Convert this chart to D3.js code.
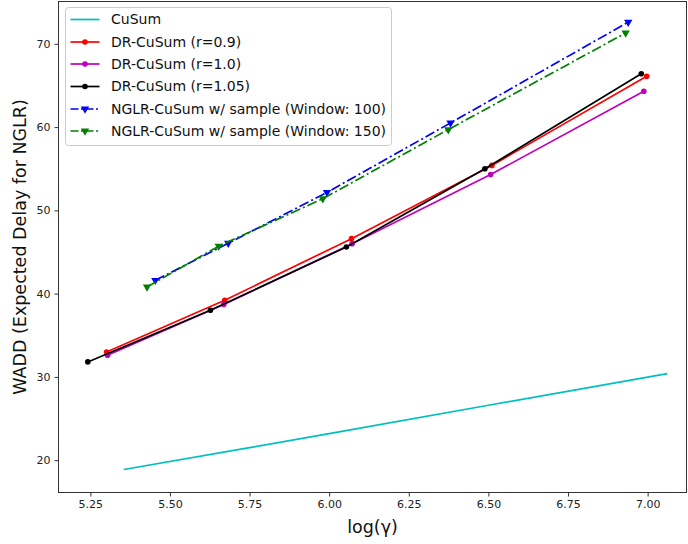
<!DOCTYPE html>
<html>
<head>
<meta charset="utf-8">
<script src="https://cdn.jsdelivr.net/npm/d3@7"></script>
<style>
  html, body { margin: 0; padding: 0; background: #fff; }
  svg { display: block; font-family: "DejaVu Sans", sans-serif; }
</style>
</head>
<body>
<svg id="chart" width="688" height="544"></svg>
<script>
// ---- data ----
const cusumX = [5.355, 5.75, 6.0, 6.5, 7.062];
const cusumY = [18.88, 21.5, 23.2, 26.6, 30.4];

const drX09 = [5.301, 5.672, 6.070, 6.511, 6.997];
const drY09 = [33.0, 39.2, 46.6, 55.4, 66.1];

const drX10 = [5.304, 5.669, 6.072, 6.507, 6.988];
const drY10 = [32.6, 38.7, 46.0, 54.3, 64.3];

const drX105 = [5.242, 5.627, 6.054, 6.489, 6.980];
const drY105 = [31.8, 38.0, 45.6, 55.0, 66.4];

const nglrX100 = [5.454, 5.683, 5.993, 6.381, 6.939];
const nglrY100 = [41.6, 46.05, 52.15, 60.5, 72.6];

const nglrX150 = [5.428, 5.653, 5.980, 6.374, 6.931];
const nglrY150 = [40.8, 45.7, 51.4, 59.7, 71.3];

const xTicks = [5.25, 5.50, 5.75, 6.00, 6.25, 6.50, 6.75, 7.00];
const yTicks = [20, 30, 40, 50, 60, 70];

const seriesNames = [
  "CuSum",
  "DR-CuSum (r=0.9)",
  "DR-CuSum (r=1.0)",
  "DR-CuSum (r=1.05)",
  "NGLR-CuSum w/ sample (Window: 100)",
  "NGLR-CuSum w/ sample (Window: 150)"
];

// ---- build series ----
const zip = (xs, ys) => xs.map((x, i) => ({x, y: ys[i]}));
const series = [
  {name: seriesNames[0], pts: zip(cusumX, cusumY), color: "#00bfbf", marker: null, dash: null},
  {name: seriesNames[1], pts: zip(drX09, drY09), color: "#ff0000", marker: "o", dash: null},
  {name: seriesNames[2], pts: zip(drX10, drY10), color: "#bf00bf", marker: "o", dash: null},
  {name: seriesNames[3], pts: zip(drX105, drY105), color: "#000000", marker: "o", dash: null},
  {name: seriesNames[4], pts: zip(nglrX100, nglrY100), color: "#0000ff", marker: "v", dash: "10,3,2,3"},
  {name: seriesNames[5], pts: zip(nglrX150, nglrY150), color: "#008000", marker: "v", dash: "10,3,2,3"}
];

// ---- layout ----
const svg = d3.select("#chart");
const L = 58.5, R = 686.5, T = 1.5, B = 492.5;

const x = d3.scaleLinear().domain([5.15, 7.122]).range([L, R]);
const y = d3.scaleLinear().domain([16.12, 75.08]).range([B, T]);

// axes
const xAxis = d3.axisBottom(x).tickValues(xTicks).tickFormat(d3.format(".2f")).tickSize(4).tickPadding(4);
const yAxis = d3.axisLeft(y).tickValues(yTicks).tickFormat(d3.format("d")).tickSize(4).tickPadding(4);

const gx = svg.append("g").attr("transform", `translate(0,${B})`).call(xAxis);
const gy = svg.append("g").attr("transform", `translate(${L},0)`).call(yAxis);
[gx, gy].forEach(g => {
  g.select(".domain").remove();
  g.selectAll("text").attr("font-size", 11).attr("fill", "#222").attr("font-family", "DejaVu Sans");
  g.selectAll("line").attr("stroke", "#333").attr("stroke-width", 1);
});

// clip
svg.append("clipPath").attr("id", "clip").append("rect")
  .attr("x", L).attr("y", T).attr("width", R - L).attr("height", B - T);

const plot = svg.append("g").attr("clip-path", "url(#clip)");
const line = d3.line().x(d => x(d.x)).y(d => y(d.y));

const tri = d3.symbol().type(d3.symbolTriangle).size(30);

function drawMarker(g, mk, color, cx, cy) {
  if (mk === "o") {
    g.append("circle").attr("cx", cx).attr("cy", cy).attr("r", 2.8).attr("fill", color);
  } else if (mk === "v") {
    g.append("path").attr("d", tri()).attr("fill", color)
      .attr("transform", `translate(${cx},${cy}) rotate(180)`);
  }
}

series.forEach(s => {
  plot.append("path").datum(s.pts)
    .attr("d", line)
    .attr("fill", "none")
    .attr("stroke", s.color)
    .attr("stroke-width", 1.7)
    .attr("stroke-dasharray", s.dash);
  if (s.marker) {
    s.pts.forEach(p => drawMarker(plot, s.marker, s.color, x(p.x), y(p.y)));
  }
});

// frame
svg.append("rect").attr("x", L).attr("y", T).attr("width", R - L).attr("height", B - T)
  .attr("fill", "none").attr("stroke", "#333").attr("stroke-width", 1);

// axis labels
svg.append("text").attr("x", (L + R) / 2).attr("y", 533).attr("text-anchor", "middle")
  .attr("font-size", 17.5).attr("fill", "#111").text("log(γ)");
svg.append("text").attr("transform", `translate(26,${(T + B) / 2}) rotate(-90)`)
  .attr("text-anchor", "middle").attr("font-size", 17.5).attr("fill", "#111")
  .text("WADD (Expected Delay for NGLR)");

// legend
const lg = svg.append("g");
lg.append("rect").attr("x", 65.5).attr("y", 7.5).attr("width", 326).attr("height", 138)
  .attr("rx", 3).attr("fill", "#fff").attr("fill-opacity", 0.8)
  .attr("stroke", "#cccccc").attr("stroke-width", 1);
const rowY = [19.5, 42, 64, 86.5, 109, 131];
series.forEach((s, i) => {
  const ry = rowY[i];
  lg.append("line").attr("x1", 70.5).attr("x2", 99.5).attr("y1", ry).attr("y2", ry)
    .attr("stroke", s.color).attr("stroke-width", 1.7)
    .attr("stroke-dasharray", s.dash ? "8,2.5,2,2.5" : null);
  if (s.marker) drawMarker(lg, s.marker, s.color, 85, ry);
  lg.append("text").attr("x", 111).attr("y", ry).attr("dy", "0.35em")
    .attr("font-size", 14).attr("fill", "#111").text(s.name);
});
</script>
</body>
</html>
